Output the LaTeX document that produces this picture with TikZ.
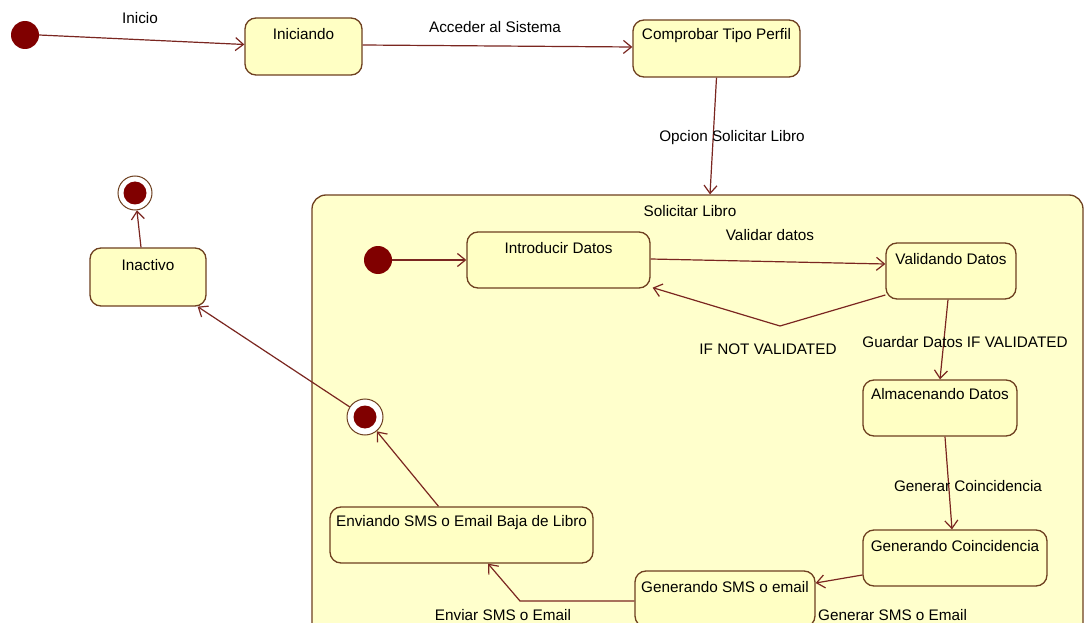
\documentclass[tikz,border=0pt]{standalone}
\usepackage{fontspec}
\setmainfont{Liberation Sans}
\usetikzlibrary{arrows.meta,calc}
\definecolor{linec}{HTML}{7A2620}
\definecolor{boxc}{HTML}{6E4020}
\definecolor{fillc}{HTML}{FFFFC4}
\definecolor{compfill}{HTML}{FFFFCC}
\definecolor{dotc}{HTML}{800000}
\begin{document}
\begin{tikzpicture}[x=1pt,y=-1pt,font=\fontsize{15.3}{18}\selectfont,
  stbox/.style={rectangle,draw=boxc,line width=1.3pt,fill=fillc,rounded corners=11pt,inner sep=0pt},
  sttext/.style={anchor=center,yshift=-16.5pt,inner sep=0pt},
  startdot/.style={circle,fill=dotc,minimum size=28pt,inner sep=0pt},
  enddot/.style={circle,draw=boxc,fill=white,line width=1pt,minimum size=34pt,inner sep=0pt,
    path picture={\fill[dotc] (path picture bounding box.center) circle[radius=11.5pt];}},
  tr/.style={draw=linec,line width=1.2pt,-{Straight Barb[length=8pt,width=13pt,line width=1.2pt]}},
  lbl/.style={inner sep=0pt,text=black}]
\useasboundingbox (0,0) rectangle (1088,623);
\fill[white] (0,0) rectangle (1088,623);
\clip (0,0) rectangle (1088,623);

% composite state
\node[stbox,fill=compfill,rounded corners=14pt,minimum width=771pt,minimum height=450pt] (solic) at (697.5,420) {};
\node[lbl] (soltitle) at (690,211) {Solicitar Libro};

% top-level states
\node[startdot] (i0) at (25,35) {};
\node[stbox,minimum width=117pt,minimum height=57pt,label={[sttext]north:Iniciando}] (ini) at (303.5,46.5) {};
\node[stbox,minimum width=167pt,minimum height=57pt,label={[sttext]north:Comprobar Tipo Perfil}] (comp) at (716.5,48.5) {};
\node[stbox,minimum width=116pt,minimum height=58pt,label={[sttext,yshift=-1pt]north:Inactivo}] (inact) at (148,277) {};
\node[enddot] (f0) at (135,193) {};

% inner states
\node[startdot] (i1) at (378,260) {};
\node[stbox,minimum width=183pt,minimum height=56pt,label={[sttext]north:Introducir Datos}] (intro) at (558.5,260) {};
\node[stbox,minimum width=130pt,minimum height=56pt,label={[sttext]north:Validando Datos}] (valid) at (951,271) {};
\node[stbox,minimum width=154pt,minimum height=56pt,label={[sttext,yshift=2pt]north:Almacenando Datos}] (alma) at (940,408) {};
\node[stbox,minimum width=184pt,minimum height=56pt,label={[sttext]north:Generando Coincidencia}] (gcoin) at (955,558) {};
\node[stbox,minimum width=180pt,minimum height=56pt,label={[sttext]north:Generando SMS o email}] (gsms) at (725,599) {};
\node[stbox,minimum width=263pt,minimum height=56pt,label={[sttext]north:Enviando SMS o Email Baja de Libro}] (env) at (461.5,535) {};
\node[enddot,minimum size=36pt] (f1) at (365,417) {};

\coordinate (nvbend) at (780,326);
\coordinate (envbend) at (520,601);

% transitions
\draw[tr] (i0.east) -- ([yshift=2pt]ini.west);
\node[lbl] (l1) at (140,18) {Inicio};
\draw[tr] ([yshift=1.5pt]ini.east) -- ([yshift=1.5pt]comp.west);
\node[lbl] (l2) at (495,27) {Acceder al Sistema};
\draw[tr] (comp.south) -- ([xshift=12.5pt]solic.north);
\node[lbl] (l3) at (732,138) {Opcion Solicitar Libro};
\draw[tr] (i1.east) -- (intro.west);
\draw[tr] ([yshift=1pt]intro.east) -- ([yshift=7pt]valid.west);
\node[lbl] (l4) at (770,235) {Validar datos};
\draw[tr] ([yshift=-24pt]valid.west) -- (nvbend) -- ([xshift=2pt,yshift=1pt]intro.south east);
\node[lbl] (l5) at (768,349) {IF NOT VALIDATED};
\draw[tr] ([xshift=-3pt]valid.south) -- (alma.north);
\node[lbl] (l6) at (965,342) {Guardar Datos IF VALIDATED};
\draw[tr] ([xshift=5pt]alma.south) -- ([xshift=-3pt]gcoin.north);
\node[lbl] (l7) at (968,486) {Generar Coincidencia};
\draw[tr] ([yshift=-17pt]gcoin.west) -- ([yshift=16pt]gsms.east);
\node[lbl,anchor=west] (l8) at (818,615) {Generar SMS o Email};
\draw[tr] ([yshift=-2pt]gsms.west) -- (envbend) -- ([xshift=26.5pt]env.south);
\node[lbl] (l9) at (503,615) {Enviar SMS o Email};
\draw[tr] ([xshift=-23pt]env.north) -- (f1);
\draw[tr] (f1) -- ([xshift=-9pt]inact.south east);
\draw[tr] ([xshift=-7pt]inact.north) -- (f0);
\end{tikzpicture}
\end{document}
